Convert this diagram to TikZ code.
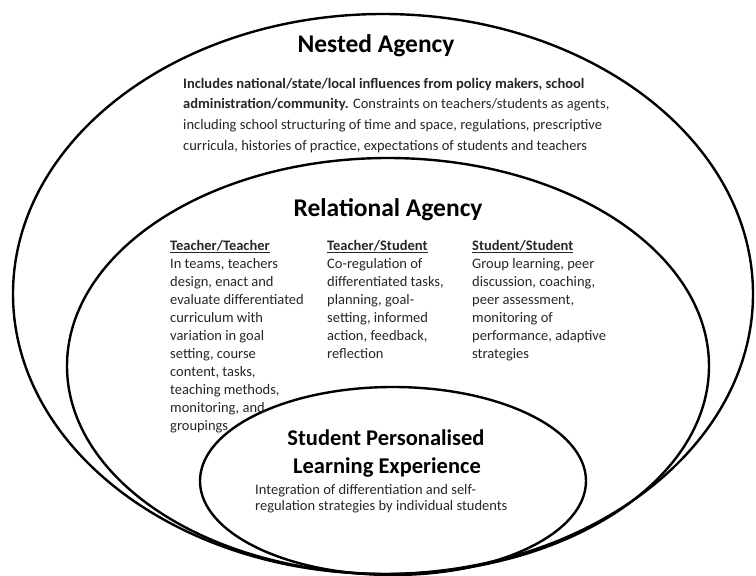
\documentclass[tikz,border=0pt]{standalone}
\usepackage{fontspec}
\setmainfont{Carlito}
\newcommand{\mylines}[1]{\begin{tabular}[t]{@{}l@{}}#1\end{tabular}}
\tikzset{
  ring/.style={line width=2.4pt, black},
  title/.style={anchor=base, inner sep=0pt, font=\fontsize{25.5}{28}\selectfont\bfseries},
  body/.style={anchor=base west, inner sep=0pt, text=black!85, font=\fontsize{14.5}{20.7}\selectfont},
  col/.style={anchor=base west, inner sep=0pt, text=black!85, font=\fontsize{14.5}{18}\selectfont},
}
\begin{document}
\begin{tikzpicture}[x=1pt,y=-1pt]
\useasboundingbox (0,0) rectangle (756,576);
% ellipses
\draw[ring] (383,294) ellipse [x radius=370, y radius=280];
\draw[ring] (388,366) ellipse [x radius=321, y radius=208];
\draw[ring] (393,481) ellipse [x radius=193, y radius=94];
% nested
\node[title] (nt) at (376,52) {Nested Agency};
\node[body] (nb) at (183,88) {\mylines{%
\textbf{Includes national/state/local influences from policy makers, school}\\
\textbf{administration/community.} Constraints on teachers/students as agents,\\
including school structuring of time and space, regulations, prescriptive\\
curricula, histories of practice, expectations of students and teachers}};
% relational
\node[title] (rt) at (388,216) {Relational Agency};
\node[col] (c1) at (170,250) {\mylines{%
\underline{\textbf{Teacher/Teacher}}\\
In teams, teachers\\
design, enact and\\
evaluate differentiated\\
curriculum with\\
variation in goal\\
setting, course\\
content, tasks,\\
teaching methods,\\
monitoring, and\\
groupings}};
\node[col] (c2) at (327,250) {\mylines{%
\underline{\textbf{Teacher/Student}}\\
Co-regulation of\\
differentiated tasks,\\
planning, goal-\\
setting, informed\\
action, feedback,\\
reflection}};
\node[col] (c3) at (472,250) {\mylines{%
\underline{\textbf{Student/Student}}\\
Group learning, peer\\
discussion, coaching,\\
peer assessment,\\
monitoring of\\
performance, adaptive\\
strategies}};
% student personalised
\node[title, font=\fontsize{22.5}{28}\selectfont\bfseries] (st1) at (386,445) {Student Personalised};
\node[title, font=\fontsize{22.5}{28}\selectfont\bfseries] (st2) at (387,473) {Learning Experience};
\node[col, font=\fontsize{14.5}{16.5}\selectfont] (sb) at (255,494) {\mylines{%
Integration of differentiation and self-\\
regulation strategies by individual students}};
\end{tikzpicture}
\end{document}
